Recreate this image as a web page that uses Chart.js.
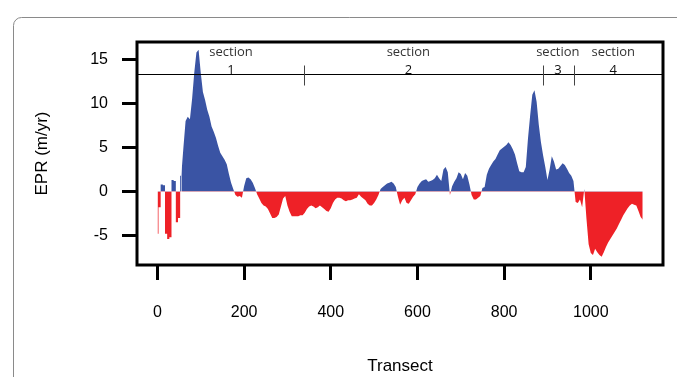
<!DOCTYPE html>
<html>
<head>
<meta charset="utf-8">
<script src="https://cdn.jsdelivr.net/npm/chart.js@4/dist/chart.umd.min.js"></script>
<style>
  html, body { margin: 0; padding: 0; background: #fff; }
  #wrap { width: 677px; height: 377px; position: relative; }
</style>
</head>
<body>
<div id="wrap"><canvas id="c" width="677" height="377"></canvas></div>
<script>
// ---- data ----
const transectStart = 0;
const transectStep = 5;
const epr = [
  -4.8,-1.8,0.8,0.7,-4.8,-5.4,-5.2,1.3,1.2,-3.5,
  -3.0,1.8,5.0,8.0,8.5,8.2,10.5,13.5,15.8,16.1,
  13.5,11.3,10.4,9.3,8.5,7.4,6.8,6.1,5.2,4.4,
  4.0,3.6,3.1,2.0,1.0,0.3,-0.4,-0.6,-0.5,-0.7,
  0.6,1.5,1.6,1.4,1.0,0.4,-0.3,-0.8,-1.3,-1.6,
  -1.7,-2.0,-2.5,-3.0,-3.0,-2.9,-2.6,-1.7,-0.8,-0.5,
  -1.6,-2.3,-2.8,-2.8,-2.8,-2.8,-2.7,-2.7,-2.4,-2.0,
  -1.7,-1.6,-1.7,-1.9,-1.8,-1.6,-1.8,-2.0,-2.2,-2.3,
  -1.9,-1.3,-0.9,-0.7,-0.7,-0.8,-1.0,-1.1,-1.0,-1.0,
  -0.9,-0.8,-0.7,-0.3,-0.6,-0.8,-1.0,-1.4,-1.6,-1.6,
  -1.3,-0.9,-0.4,0.3,0.5,0.7,0.9,1.0,1.1,0.9,
  0.5,-0.6,-1.5,-1.0,-0.7,-1.3,-1.4,-1.0,-0.6,-0.3,
  0.5,0.9,1.2,1.3,1.4,1.1,1.2,1.3,1.5,1.9,
  1.5,1.2,2.5,2.8,2.2,-0.4,0.6,1.1,1.5,2.2,
  2.0,1.4,2.1,1.8,0.8,-0.4,-0.9,-0.9,-0.7,-0.5,
  0.4,0.5,1.9,2.6,3.0,3.4,3.7,4.2,4.7,4.9,
  5.1,5.3,5.6,5.3,4.8,4.2,3.2,2.3,2.2,2.2,
  2.8,6.0,8.6,11.0,11.5,10.2,7.6,5.6,4.1,2.8,
  1.3,2.5,4.0,3.4,2.5,2.6,2.9,3.2,3.0,2.6,
  2.1,1.8,1.2,-1.2,-1.3,-0.9,-1.8,0.3,-3.1,-6.0,
  -7.0,-7.2,-6.5,-6.9,-7.2,-7.4,-6.9,-6.3,-5.8,-5.4,
  -5.0,-4.6,-4.2,-3.7,-3.2,-2.7,-2.3,-1.9,-1.6,-1.4,
  -1.5,-1.6,-2.2,-2.9,-3.2
];
const transects = epr.map((_, i) => transectStart + i * transectStep);
const xTickValues = [0, 200, 400, 600, 800, 1000];
const yTickValues = [-5, 0, 5, 10, 15];
const sectionNumbers = ['1', '2', '3', '4'];
const sectionCenters = [170, 579, 924, 1052];
const sectionBreaks = [338, 889, 962];
const sectionLineLevel = 13.35;
// transects up to this one alternate sign rapidly and are drawn as steps
const spikyUntil = 55;

// ---- styling ----
const BLUE = '#3A54A4';
const RED = '#EE2127';
const AXIS_FONT = "'Liberation Sans', Arial, sans-serif";

const points = transects.map((t, i) => ({ x: t, y: epr[i] }));
const spikyPoints = points.filter(p => p.x <= spikyUntil);
const smoothPoints = points.filter(p => p.x >= spikyUntil);

const framePlugin = {
  id: 'frame',
  beforeDraw(chart) {
    const ctx = chart.ctx;
    ctx.save();
    ctx.strokeStyle = '#8a8a8a';
    ctx.lineWidth = 1;
    ctx.beginPath();
    ctx.roundRect(13.5, 17.5, 720, 420, 8);
    ctx.stroke();
    ctx.restore();
  },
  afterDatasetsDraw(chart) {
    const ctx = chart.ctx;
    const a = chart.chartArea;
    const xs = chart.scales.x, ys = chart.scales.y;
    ctx.save();
    const ly = Math.round(ys.getPixelForValue(sectionLineLevel)) + 0.5;
    ctx.strokeStyle = '#000';
    ctx.lineWidth = 1;
    ctx.beginPath();
    ctx.moveTo(a.left, ly);
    ctx.lineTo(a.right, ly);
    ctx.stroke();
    ctx.strokeStyle = '#444';
    sectionBreaks.forEach(b => {
      const px = Math.round(xs.getPixelForValue(b)) + 0.5;
      ctx.beginPath();
      ctx.moveTo(px, ly - 9);
      ctx.lineTo(px, ly + 11);
      ctx.stroke();
    });
    ctx.textAlign = 'center';
    ctx.textBaseline = 'alphabetic';
    ctx.font = "13px 'Open Sans', 'DejaVu Sans', sans-serif";
    sectionCenters.forEach((c, i) => {
      const px = xs.getPixelForValue(c);
      ctx.fillStyle = '#333';
      ctx.fillText('section', px, ly - 19);
      ctx.fillStyle = '#111';
      ctx.fillText(sectionNumbers[i], px, ly - 1);
    });
    ctx.strokeStyle = '#000';
    ctx.lineWidth = 3;
    ctx.strokeRect(a.left, a.top, a.right - a.left, a.bottom - a.top);
    ctx.restore();
  }
};

const areaStyle = {
  borderWidth: 0,
  borderColor: 'rgba(0,0,0,0)',
  pointRadius: 0,
  tension: 0,
  fill: { target: 'origin', above: BLUE, below: RED }
};

new Chart(document.getElementById('c'), {
  type: 'line',
  data: {
    datasets: [
      Object.assign({ data: spikyPoints, stepped: 'middle' }, areaStyle),
      Object.assign({ data: smoothPoints }, areaStyle)
    ]
  },
  options: {
    responsive: false,
    animation: false,
    events: [],
    layout: { padding: { left: 0, top: 42, right: 14, bottom: 0 } },
    plugins: { legend: { display: false }, tooltip: { enabled: false } },
    scales: {
      x: {
        type: 'linear',
        min: -47.1,
        max: 1166.6,
        afterBuildTicks: s => { s.ticks = xTickValues.map(v => ({ value: v })); },
        afterFit: s => { s.height = 112; },
        border: { display: false },
        grid: { display: true, drawOnChartArea: false, drawTicks: true, tickLength: 15, tickWidth: 3, tickColor: '#000' },
        ticks: { padding: 23, color: '#000', font: { family: AXIS_FONT, size: 16 }, maxRotation: 0, autoSkip: false,
                 callback: v => String(v) },
        title: { display: true, text: 'Transect', color: '#000', font: { family: AXIS_FONT, size: 17 }, padding: { top: 0, bottom: 0 } }
      },
      y: {
        type: 'linear',
        min: -8.35,
        max: 16.99,
        afterBuildTicks: s => { s.ticks = yTickValues.map(v => ({ value: v })); },
        afterFit: s => { s.width = 137; },
        border: { display: false },
        grid: { display: true, drawOnChartArea: false, drawTicks: true, tickLength: 15, tickWidth: 3, tickColor: '#000' },
        ticks: { padding: 14, color: '#000', font: { family: AXIS_FONT, size: 16 }, autoSkip: false,
                 callback: v => String(v) },
        title: { display: true, text: 'EPR (m/yr)', color: '#000', font: { family: AXIS_FONT, size: 17 }, padding: { top: 32, bottom: 0 } }
      }
    }
  },
  plugins: [framePlugin]
});
</script>
</body>
</html>
